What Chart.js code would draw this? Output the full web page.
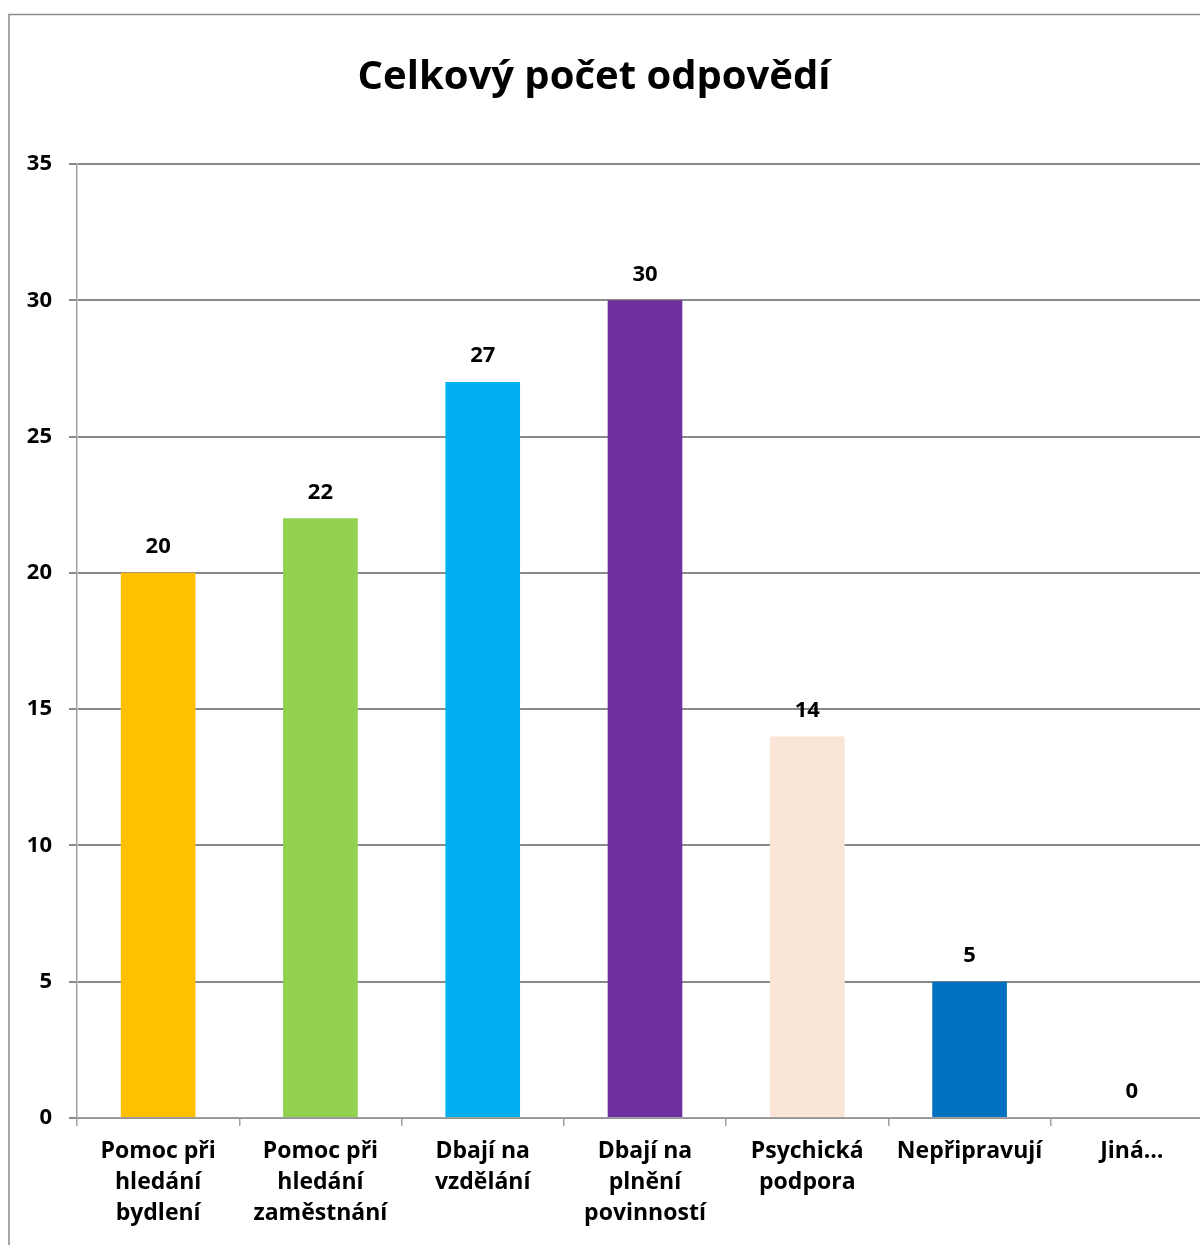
<!DOCTYPE html>
<html>
<head>
<meta charset="utf-8">
<script src="https://cdn.jsdelivr.net/npm/chart.js@4.4.0/dist/chart.umd.min.js"></script>
<style>
html,body{margin:0;padding:0;background:#fff;overflow:hidden;width:1200px;height:1245px;}
canvas{display:block;}
</style>
</head>
<body>
<canvas id="c" width="1240" height="1245"></canvas>
<script>
const chartTitle = 'Celkový počet odpovědí';
const categories = [
  ['Pomoc při', 'hledání', 'bydlení'],
  ['Pomoc při', 'hledání', 'zaměstnání'],
  ['Dbají na', 'vzdělání'],
  ['Dbají na', 'plnění', 'povinností'],
  ['Psychická', 'podpora'],
  ['Nepřipravují'],
  ['Jiná…']
];
const values = [20, 22, 27, 30, 14, 5, 0];
const barColors = ['#FFC000', '#92D050', '#00B0F0', '#7030A0', '#FBE5D6', '#0070C0', '#A5A5A5'];
const yTicks = [0, 5, 10, 15, 20, 25, 30, 35];

const FONT = '"Open Sans", sans-serif';

const decor = {
  id: 'decor',
  afterDraw(chart) {
    const ctx = chart.ctx;
    ctx.save();
    // border
    ctx.strokeStyle = '#8c8c8c';
    ctx.lineWidth = 1.5;
    ctx.strokeRect(9, 14.5, 1400, 1400);
    // title
    ctx.fillStyle = '#000';
    ctx.font = 'bold 40px ' + FONT;
    ctx.textAlign = 'center';
    ctx.textBaseline = 'alphabetic';
    ctx.fillText(chartTitle, 594, 89);
    // data labels
    ctx.font = 'bold 22px ' + FONT;
    ctx.textBaseline = 'middle';
    const meta = chart.getDatasetMeta(0);
    meta.data.forEach((bar, i) => {
      ctx.fillText(String(values[i]), bar.x, bar.y - 26);
    });
    ctx.restore();
  }
};

new Chart(document.getElementById('c'), {
  type: 'bar',
  data: {
    labels: categories,
    datasets: [{
      data: values,
      backgroundColor: barColors,
      borderWidth: 0,
      categoryPercentage: 1,
      barPercentage: 0.46
    }]
  },
  options: {
    responsive: false,
    animation: false,
    layout: { padding: { top: 164, right: 27, left: 0, bottom: 0 } },
    plugins: {
      legend: { display: false },
      title: { display: false },
      tooltip: { enabled: false }
    },
    scales: {
      x: {
        grid: { drawOnChartArea: false, drawTicks: true, tickLength: 8, color: '#a0a0a0', lineWidth: 1.5 },
        border: { color: '#a0a0a0', width: 1.5 },
        ticks: { color: '#000', font: { family: FONT, size: 23, weight: 'bold', lineHeight: 1.35 }, padding: 10, maxRotation: 0, autoSkip: false },
        afterFit(scale) { scale.height = 127; }
      },
      y: {
        min: 0, max: 35,
        afterBuildTicks(scale) { scale.ticks = yTicks.map(v => ({ value: v })); },
        grid: { color: '#898989', lineWidth: 2, tickLength: 8, drawTicks: true },
        border: { color: '#a0a0a0', width: 1.5 },
        ticks: { color: '#000', font: { family: FONT, size: 22, weight: 'bold' }, padding: 17 },
        afterFit(scale) { scale.width = 77; }
      }
    }
  },
  plugins: [decor]
});
</script>
</body>
</html>
